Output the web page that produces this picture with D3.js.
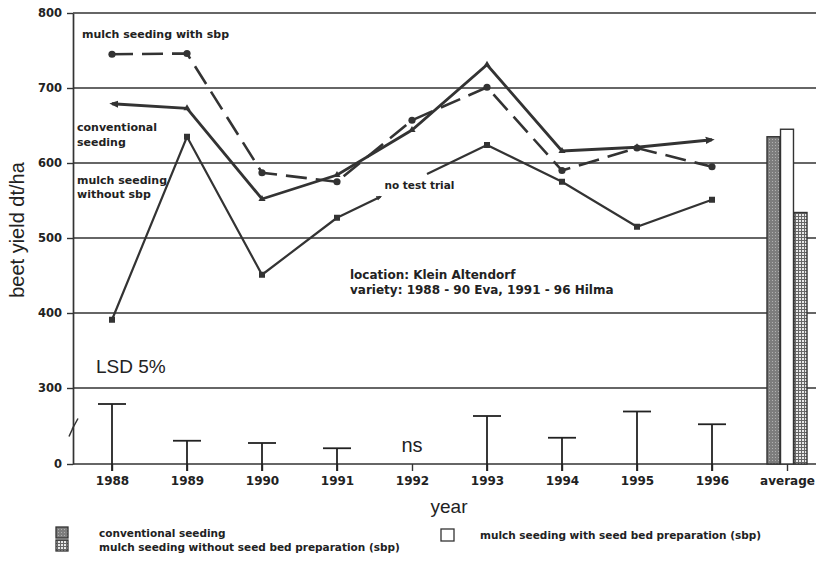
<!DOCTYPE html>
<html>
<head>
<meta charset="utf-8">
<script src="https://cdn.jsdelivr.net/npm/d3@7"></script>
<style>
  html, body { margin: 0; padding: 0; background: #fff; }
  svg { display: block; }
  .lbl { font-family: "DejaVu Sans", sans-serif; font-weight: bold; fill: #222; }
  .big { font-family: "Liberation Sans", Arial, sans-serif; fill: #222; }
</style>
</head>
<body>
<script>
// Sugar beet yield (dt/ha), Klein Altendorf trials 1988-1996
const years = ["1988", "1989", "1990", "1991", "1992", "1993", "1994", "1995", "1996"];
const categories = [...years, "average"];

const conventional    = [679, 673, 552, 584, 644, 731, 616, 621, 631];
const mulchWithSbp    = [745, 746, 587, 575, 657, 701, 590, 620, 595];
const mulchWithoutSbp = [391, 635, 451, 527, null, 624, 575, 515, 551]; // 1992: no test trial

// least significant difference (5 %) per year; 1992 not significant
const lsd = [80, 31, 28, 21, null, 64, 35, 70, 53];

const averageKeys   = ["conventional", "withSbp", "withoutSbp"];
const averageValues = [635, 645, 534];

const yTicks = [0, 300, 400, 500, 600, 700, 800];
const gridValues = [300, 400, 500, 600, 700, 800];

const W = 816, H = 564;
const plotLeft = 73, plotRight = 816, plotBottom = 464, plotTop = 13;
const ink = "#333";

const svg = d3.select("body").append("svg").attr("width", W).attr("height", H);

// broken value axis: 0-100 below the break, 300-800 above it
const y = d3.scaleLinear().domain([0, 100, 300, 800]).range([plotBottom, 389, 388, plotTop]);
const x = d3.scalePoint().domain(categories).range([112, 787]);
const xb = d3.scaleBand().domain(averageKeys).range([-20, 20]).paddingInner(0.04);

// patterns for the average bars
const defs = svg.append("defs");
const p1 = defs.append("pattern").attr("id", "patConv").attr("patternUnits", "userSpaceOnUse")
  .attr("width", 3).attr("height", 3);
p1.append("rect").attr("width", 3).attr("height", 3).attr("fill", "#7d7d7d");
p1.append("rect").attr("x", 1).attr("y", 1).attr("width", 1).attr("height", 1).attr("fill", "#b0b0b0");
const p2 = defs.append("pattern").attr("id", "patWithout").attr("patternUnits", "userSpaceOnUse")
  .attr("width", 3).attr("height", 3);
p2.append("rect").attr("width", 3).attr("height", 3).attr("fill", "#666");
p2.append("rect").attr("x", 1).attr("y", 1).attr("width", 2).attr("height", 2).attr("fill", "#e6e6e6");

const arrowMarker = (id, size) => defs.append("marker").attr("id", id).attr("viewBox", "0 0 10 10")
  .attr("refX", 7).attr("refY", 5).attr("markerWidth", size).attr("markerHeight", size)
  .attr("markerUnits", "strokeWidth").attr("orient", "auto-start-reverse")
  .append("path").attr("d", "M0,1 L10,5 L0,9 Z").attr("fill", ink);
arrowMarker("arrow", 3.2);
arrowMarker("arrowSmall", 2.6);

// horizontal grid
svg.append("g").selectAll("line").data(gridValues).join("line")
  .attr("x1", plotLeft).attr("x2", plotRight)
  .attr("y1", d => y(d)).attr("y2", d => y(d))
  .attr("stroke", ink).attr("stroke-width", 1.7);

// y axis
const yAxis = svg.append("g").attr("transform", `translate(${plotLeft},0)`)
  .call(d3.axisLeft(y).tickValues(yTicks).tickSize(6).tickPadding(5).tickSizeOuter(0));
yAxis.select(".domain").attr("stroke", ink).attr("stroke-width", 1.7);
yAxis.selectAll(".tick line").attr("stroke", ink).attr("stroke-width", 1.4);
yAxis.selectAll(".tick text").attr("class", "lbl").attr("font-size", 11.5).attr("fill", "#444");

// axis break mark
const yb = y(42);
svg.append("path")
  .attr("d", `M${plotLeft - 4},${yb + 4} L${plotLeft + 1},${yb - 7} L${plotLeft - 1},${yb - 3} L${plotLeft + 5},${yb - 14}`)
  .attr("fill", "none").attr("stroke", ink).attr("stroke-width", 1.5);

// x axis
const xAxis = svg.append("g").attr("transform", `translate(0,${plotBottom})`)
  .call(d3.axisBottom(x).tickSize(7).tickPadding(5));
xAxis.select(".domain").remove();
xAxis.selectAll(".tick line").attr("stroke", ink).attr("stroke-width", 1.4);
xAxis.selectAll(".tick text").attr("class", "lbl").attr("font-size", 12).attr("fill", "#333");
svg.append("line").attr("x1", plotLeft).attr("x2", plotRight).attr("y1", plotBottom).attr("y2", plotBottom)
  .attr("stroke", ink).attr("stroke-width", 1.7);

// average bars
svg.append("g").selectAll("rect").data(averageKeys.map((k, i) => ({ k, v: averageValues[i] }))).join("rect")
  .attr("x", d => x("average") + xb(d.k))
  .attr("width", xb.bandwidth())
  .attr("y", d => y(d.v))
  .attr("height", d => plotBottom - y(d.v))
  .attr("fill", d => d.k === "conventional" ? "url(#patConv)" : d.k === "withSbp" ? "#fff" : "url(#patWithout)")
  .attr("stroke", ink).attr("stroke-width", 1.4);

// LSD bars
const lsdData = years.map((yr, i) => ({ yr, v: lsd[i] })).filter(d => d.v != null);
const lsdG = svg.append("g").attr("stroke", "#222").attr("stroke-width", 1.8);
lsdG.selectAll("line.v").data(lsdData).join("line").attr("class", "v")
  .attr("x1", d => x(d.yr)).attr("x2", d => x(d.yr))
  .attr("y1", plotBottom + 7).attr("y2", d => y(d.v));
lsdG.selectAll("line.c").data(lsdData).join("line").attr("class", "c")
  .attr("x1", d => x(d.yr) - 14).attr("x2", d => x(d.yr) + 14)
  .attr("y1", d => y(d.v)).attr("y2", d => y(d.v));
svg.append("text").attr("class", "big").attr("x", x("1992")).attr("y", y(16))
  .attr("text-anchor", "middle").attr("font-size", 20).text("ns");
svg.append("text").attr("class", "big").attr("x", 96).attr("y", 373)
  .attr("font-size", 19).text("LSD 5%");

// yield lines
const pts = arr => years.map((yr, i) => ({ yr, v: arr[i] }));
const line = d3.line().defined(d => d.v != null).x(d => x(d.yr)).y(d => y(d.v));

// mulch seeding with sbp (dashed, dots)
svg.append("path").datum(pts(mulchWithSbp)).attr("d", line)
  .attr("fill", "none").attr("stroke", ink).attr("stroke-width", 2.6)
  .attr("stroke-dasharray", "21,9");
svg.append("g").selectAll("circle").data(pts(mulchWithSbp)).join("circle")
  .attr("cx", d => x(d.yr)).attr("cy", d => y(d.v)).attr("r", 3.6).attr("fill", ink);

// conventional seeding (solid, arrow ends)
svg.append("path").datum(pts(conventional)).attr("d", line)
  .attr("fill", "none").attr("stroke", ink).attr("stroke-width", 2.8)
  .attr("marker-start", "url(#arrow)").attr("marker-end", "url(#arrow)");
svg.append("g").selectAll("path").data(pts(conventional).slice(1, -1)).join("path")
  .attr("transform", d => `translate(${x(d.yr)},${y(d.v)})`)
  .attr("d", d3.symbol(d3.symbolTriangle, 22)).attr("fill", ink);

// mulch seeding without sbp (thin solid, squares); the 1991-1993 link is
// interrupted by the "no test trial" note
const wo = pts(mulchWithoutSbp);
svg.append("path").datum(wo).attr("d", line)
  .attr("fill", "none").attr("stroke", ink).attr("stroke-width", 2.2);
const a = wo[3], b = wo[5];
const at = t => [x(a.yr) + (x(b.yr) - x(a.yr)) * t, y(a.v) + (y(b.v) - y(a.v)) * t];
const [ax, ay] = at(0.29), [bx, by] = at(0.6);
svg.append("line").attr("x1", x(a.yr)).attr("y1", y(a.v)).attr("x2", ax).attr("y2", ay)
  .attr("stroke", ink).attr("stroke-width", 2.2).attr("marker-end", "url(#arrowSmall)");
svg.append("line").attr("x1", bx).attr("y1", by).attr("x2", x(b.yr)).attr("y2", y(b.v))
  .attr("stroke", ink).attr("stroke-width", 2.2);
svg.append("g").selectAll("rect").data(wo.filter(d => d.v != null)).join("rect")
  .attr("x", d => x(d.yr) - 3).attr("y", d => y(d.v) - 3).attr("width", 6).attr("height", 6)
  .attr("fill", ink);
svg.append("text").attr("class", "lbl").attr("x", ax + 4).attr("y", 189)
  .attr("font-size", 10.5).text("no test trial");

// series labels
const lab = (xx, yy, s) => svg.append("text").attr("class", "lbl").attr("x", xx).attr("y", yy)
  .attr("font-size", 11).text(s);
lab(82, 38, "mulch seeding with sbp");
lab(77, 131, "conventional");
lab(77, 146, "seeding");
lab(77, 184, "mulch seeding");
lab(77, 198, "without sbp");

// site note
svg.append("text").attr("class", "lbl").attr("x", 350).attr("y", 279).attr("font-size", 12)
  .text("location: Klein Altendorf");
svg.append("text").attr("class", "lbl").attr("x", 350).attr("y", 294).attr("font-size", 12)
  .text("variety: 1988 - 90 Eva, 1991 - 96 Hilma");

// axis titles
svg.append("text").attr("class", "big").attr("transform", "translate(24,230) rotate(-90)")
  .attr("text-anchor", "middle").attr("font-size", 20).text("beet yield dt/ha");
svg.append("text").attr("class", "big").attr("x", 449).attr("y", 513)
  .attr("text-anchor", "middle").attr("font-size", 19).text("year");

// legend
const legend = [
  { fill: "url(#patConv)", x: 56, y: 527, tx: 99, ty: 537, text: "conventional seeding" },
  { fill: "url(#patWithout)", x: 56, y: 540, tx: 99, ty: 551, text: "mulch seeding without seed bed preparation (sbp)" },
  { fill: "#fff", x: 441, y: 529, tx: 480, ty: 539, text: "mulch seeding with seed bed preparation (sbp)" }
];
const lg = svg.append("g").selectAll("g").data(legend).join("g");
lg.append("rect").attr("x", d => d.x).attr("y", d => d.y)
  .attr("width", d => d.fill === "#fff" ? 13 : 12).attr("height", d => d.fill === "#fff" ? 12 : 11)
  .attr("fill", d => d.fill).attr("stroke", ink).attr("stroke-width", 1.3);
lg.append("text").attr("class", "lbl").attr("x", d => d.tx).attr("y", d => d.ty)
  .attr("font-size", 10.5).text(d => d.text);
</script>
</body>
</html>
